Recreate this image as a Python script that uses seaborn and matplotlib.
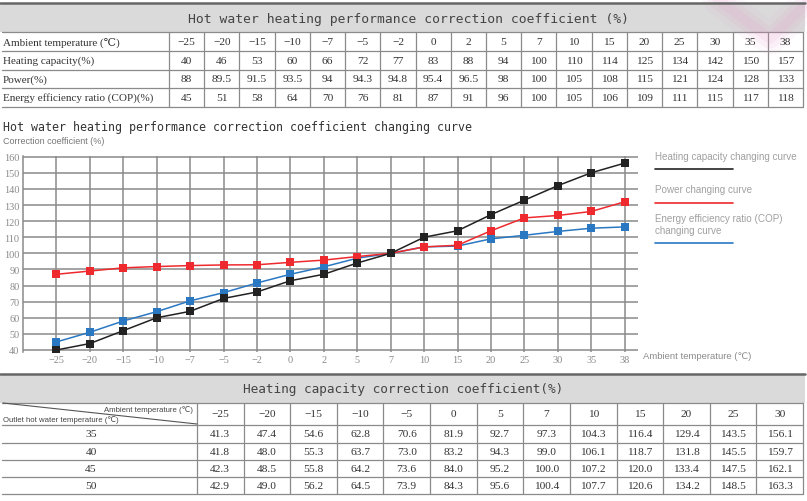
import numpy as np
import pandas as pd
import matplotlib
matplotlib.use("Agg")
import matplotlib.pyplot as plt
import seaborn as sns

# --- top table data ---
ambient = ["−25", "−20", "−15", "−10", "−7", "−5", "−2", "0", "2", "5",
           "7", "10", "15", "20", "25", "30", "35", "38"]
heat_tab = ["40", "46", "53", "60", "66", "72", "77", "83", "88", "94",
            "100", "110", "114", "125", "134", "142", "150", "157"]
power_tab = ["88", "89.5", "91.5", "93.5", "94", "94.3", "94.8", "95.4", "96.5", "98",
             "100", "105", "108", "115", "121", "124", "128", "133"]
cop_tab = ["45", "51", "58", "64", "70", "76", "81", "87", "91", "96",
           "100", "105", "106", "109", "111", "115", "117", "118"]
top_rows = ["Ambient temperature (℃)", "Heating capacity(%)", "Power(%)",
            "Energy efficiency ratio (COP)(%)"]

# --- curve values as drawn ---
heat_curve = [40, 44, 52, 60, 64, 72, 76, 83, 87, 94, 100, 110, 114, 124, 133, 142, 150, 156]
power_curve = [87, 89, 91, 91.8, 92.4, 92.8, 92.9, 94.4, 95.8, 98, 100, 104, 105, 114, 122, 123.5, 126, 132]
cop_curve = [45, 51, 58, 63.8, 70.5, 75.6, 81.6, 87, 91.6, 97, 100, 104, 104.5, 109, 111.2, 113.6, 115.6, 116.4]
series_names = ["Heating capacity changing curve", "Power changing curve",
                "Energy efficiency ratio (COP)\nchanging curve"]
series_colors = ["#222222", "#ee2a2e", "#2a78c2"]

# --- bottom table data ---
amb2 = ["−25", "−20", "−15", "−10", "−5", "0", "5", "7", "10", "15", "20", "25", "30"]
outlet = ["35", "40", "45", "50"]
hc_35 = ["41.3", "47.4", "54.6", "62.8", "70.6", "81.9", "92.7", "97.3", "104.3", "116.4", "129.4", "143.5", "156.1"]
hc_40 = ["41.8", "48.0", "55.3", "63.7", "73.0", "83.2", "94.3", "99.0", "106.1", "118.7", "131.8", "145.5", "159.7"]
hc_45 = ["42.3", "48.5", "55.8", "64.2", "73.6", "84.0", "95.2", "100.0", "107.2", "120.0", "133.4", "147.5", "162.1"]
hc_50 = ["42.9", "49.0", "56.2", "64.5", "73.9", "84.3", "95.6", "100.4", "107.7", "120.6", "134.2", "148.5", "163.3"]

W, H = 807, 502
sns.set_theme(style="white")
plt.rcParams["font.family"] = ["Liberation Sans", "DejaVu Sans"]
fig = plt.figure(figsize=(W / 100, H / 100), dpi=100)

SERIF = ["Liberation Serif", "DejaVu Serif"]
MONO = ["DejaVu Sans Mono", "DejaVu Sans"]
LINE = "#8a8a8a"
TXT = "#333333"

# overlay in pixel coordinates for tables and annotations
ov = fig.add_axes([0, 0, 1, 1], zorder=0)
ov.set_xlim(0, W)
ov.set_ylim(H, 0)
ov.axis("off")

# faint pink watermark (soft stroke built from a few wide, transparent lines)
for lw, a in [(22, 0.06), (14, 0.08), (7, 0.10)]:
    ov.plot([712, 770, 807], [-4, 40, 4], color="#e98ac8", lw=lw, alpha=a,
            solid_capstyle="round", solid_joinstyle="round", zorder=3)

# top table
ov.add_patch(plt.Rectangle((0, 4), 805, 29, fc="#dadada", ec="none", zorder=1))
ov.plot([0, 805], [4, 4], color="#666666", lw=1.8, zorder=4)
ov.text(409, 19, "Hot water heating performance correction coefficient (%)",
        ha="center", va="center", fontsize=9.4, family=MONO, color="#444444", zorder=4)
row_y = [33, 52, 70.5, 89, 108]
for y in row_y:
    ov.plot([2, 803], [y, y], color=LINE, lw=0.9, zorder=2)
col_x = 169 + np.arange(19) * (803 - 169) / 18
for x in col_x:
    ov.plot([x, x], [33, 108], color=LINE, lw=0.9, zorder=2)
top_vals = [ambient, heat_tab, power_tab, cop_tab]
for r, (label, vals) in enumerate(zip(top_rows, top_vals)):
    yc = (row_y[r] + row_y[r + 1]) / 2
    ov.text(3, yc, label, ha="left", va="center", fontsize=8, family=SERIF, color=TXT)
    for c, v in enumerate(vals):
        ov.text((col_x[c] + col_x[c + 1]) / 2, yc, v, ha="center", va="center",
                fontsize=8.2, family=SERIF, color=TXT)

# chart headings
ov.text(3, 127, "Hot water heating performance correction coefficient changing curve",
        ha="left", va="center", fontsize=8.4, family=MONO, color="#333333")
ov.text(3, 142, "Correction coefficient (%)", ha="left", va="center",
        fontsize=6.5, color="#777777")
ov.text(643, 357, "Ambient temperature (℃)", ha="left", va="center",
        fontsize=6.8, color="#8a8a8a")

# legend on the right
leg_y = [(157, 170), (190, 204), (225, 244)]
for name, col, (ty, ly) in zip(series_names, series_colors, leg_y):
    ov.text(655, ty, name, ha="left", va="center", fontsize=7.1, color="#a0a0a0",
            linespacing=1.2)
    ov.plot([655, 733], [ly, ly], color=col, lw=1.2)

# bottom table
ov.add_patch(plt.Rectangle((0, 375), 805, 29, fc="#dadada", ec="none", zorder=1))
ov.plot([0, 805], [375, 375], color="#666666", lw=1.8, zorder=4)
ov.text(403, 390, "Heating capacity correction coefficient(%)",
        ha="center", va="center", fontsize=9.2, family=MONO, color="#444444", zorder=4)
brow_y = [404, 426, 443.5, 461, 478, 495]
for y in brow_y:
    ov.plot([2, 803], [y, y], color=LINE, lw=0.9, zorder=2)
bcol_x = 197 + np.arange(14) * (803 - 197) / 13
for x in bcol_x:
    ov.plot([x, x], [404, 495], color=LINE, lw=0.9, zorder=2)
ov.plot([3, 197], [404, 425], color="#555555", lw=0.8)
ov.text(193, 410, "Ambient temperature (℃)", ha="right", va="center", fontsize=5.6, color="#444444")
ov.text(3, 420, "Outlet hot water temperature (℃)", ha="left", va="center", fontsize=5.6, color="#444444")
for c, v in enumerate(amb2):
    ov.text((bcol_x[c] + bcol_x[c + 1]) / 2, 415, v, ha="center", va="center",
            fontsize=8.2, family=SERIF, color=TXT)
for r, (o, vals) in enumerate(zip(outlet, [hc_35, hc_40, hc_45, hc_50])):
    yc = (brow_y[r + 1] + brow_y[r + 2]) / 2
    ov.text(91, yc, o, ha="center", va="center", fontsize=8.2, family=SERIF, color=TXT)
    for c, v in enumerate(vals):
        ov.text((bcol_x[c] + bcol_x[c + 1]) / 2, yc, v, ha="center", va="center",
                fontsize=8.2, family=SERIF, color=TXT)

# line chart
df = pd.DataFrame({
    "temp": ambient * 3,
    "value": heat_curve + power_curve + cop_curve,
    "series": np.repeat(series_names, len(ambient)),
})
ax_l, ax_r, ax_t, ax_b = 23, 638, 157.2, 352.6
ax = fig.add_axes([ax_l / W, 1 - ax_b / H, (ax_r - ax_l) / W, (ax_b - ax_t) / H], zorder=2)
ax.patch.set_alpha(0)
draw_order = [series_names[2], series_names[1], series_names[0]]
sns.lineplot(data=df, x="temp", y="value", hue="series", hue_order=draw_order,
             palette=dict(zip(series_names, series_colors)), marker="s", markersize=5.2,
             markeredgewidth=0, linewidth=1.1, sort=False, legend=False, ax=ax)
ax.set_xlim(-1, 17.4)
ax.set_ylim(39, 160.3)
ax.set_yticks(range(40, 161, 10))
ax.grid(True, color=LINE, lw=1.1)
ax.set_axisbelow(True)
for s in ["top", "right", "bottom"]:
    ax.spines[s].set_visible(False)
ax.spines["left"].set_color(LINE)
ax.spines["left"].set_linewidth(1.1)
ax.tick_params(length=0, pad=2.5, labelsize=7.4, colors="#8a8a8a")
for lab in ax.get_xticklabels() + ax.get_yticklabels():
    lab.set_family(SERIF)
ax.set_xlabel("")
ax.set_ylabel("")

fig.savefig("out.png", dpi=100)
